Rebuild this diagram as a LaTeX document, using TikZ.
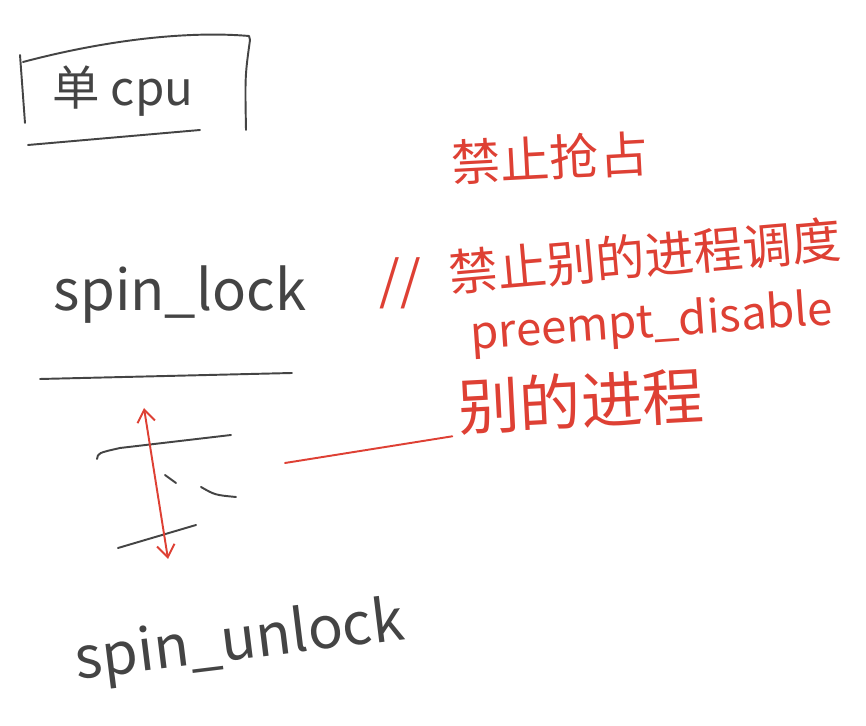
\documentclass[tikz,border=0pt]{standalone}
\usepackage{fontspec}
\usepackage{xcolor}
\usepackage{tikz}
\usetikzlibrary{positioning, arrows.meta}
\newfontfamily\hand{Noto Sans CJK SC}
\definecolor{pen}{RGB}{68,68,68}
\definecolor{marker}{RGB}{222,64,52}

\begin{document}
\begin{tikzpicture}[
    >={Straight Barb[length=7pt,width=10pt]},
    ink/.style={draw=pen,line width=1.1pt,line cap=round,line join=round},
    redink/.style={draw=marker,line width=1.1pt,line cap=round},
    bk/.style={text=pen,inner sep=0pt,font=\hand\fontsize{32}{36}\selectfont},
    rd/.style={text=marker,inner sep=0pt,font=\hand\fontsize{28}{32}\selectfont}]

  \useasboundingbox[fill=white] (0,0) rectangle (17.32,14.52);

  % box: single cpu
  \node[bk,font=\hand\fontsize{27}{30}\selectfont] (cpu) at (2.46,12.70) {单 cpu};
  \draw[ink] (0.40,13.42) -- (0.50,12.06);
  \draw[ink] (0.46,13.28) .. controls (2.2,13.74) and (3.8,13.90) .. (4.98,13.80)
             -- (5.00,13.72) .. controls (4.90,13.0) .. (4.92,11.92);
  \draw[ink] (0.56,11.62) -- (4.00,11.92);

  % notes in red
  \node[rd,rotate=3] (ban) at (11.0,11.36) {禁止抢占};
  \node[rd,font=\hand\fontsize{30}{34}\selectfont] (slash) at (8.0,8.86) {//};
  \node[rd,rotate=5] (nosched) at (12.9,9.40) {禁止别的进程调度};
  \node[rd,rotate=4,font=\hand\fontsize{26}{30}\selectfont] (preempt) at (13.04,8.04) {preempt\_disable};
  \node[rd,rotate=3,font=\hand\fontsize{35}{40}\selectfont] (others) at (11.62,6.50) {别的进程};

  % lock / unlock
  \node[bk] (lock) at (3.6,8.62) {spin\_lock};
  \draw[ink] (0.80,6.94) -- (5.84,7.06);
  \node[bk,rotate=7,font=\hand\fontsize{33}{38}\selectfont] (unlock) at (4.8,1.66) {spin\_unlock};

  % critical section
  \draw[ink] (1.94,5.34) .. controls (1.96,5.46) .. (2.40,5.56) -- (4.62,5.82);
  \draw[ink] (2.36,3.56) -- (3.92,4.02);
  \draw[ink] (3.30,5.02) -- (3.52,4.86);
  \draw[ink] (4.02,4.78) .. controls (4.30,4.62) .. (4.72,4.58);
  \coordinate (top) at (2.88,6.36);
  \coordinate (bot) at (3.36,3.34);
  \draw[redink,<->] (top) -- (bot);

  \coordinate (lnA) at (5.70,5.26);
  \draw[redink] (lnA) -- ([xshift=-4pt]others.south west);
\end{tikzpicture}
\end{document}
